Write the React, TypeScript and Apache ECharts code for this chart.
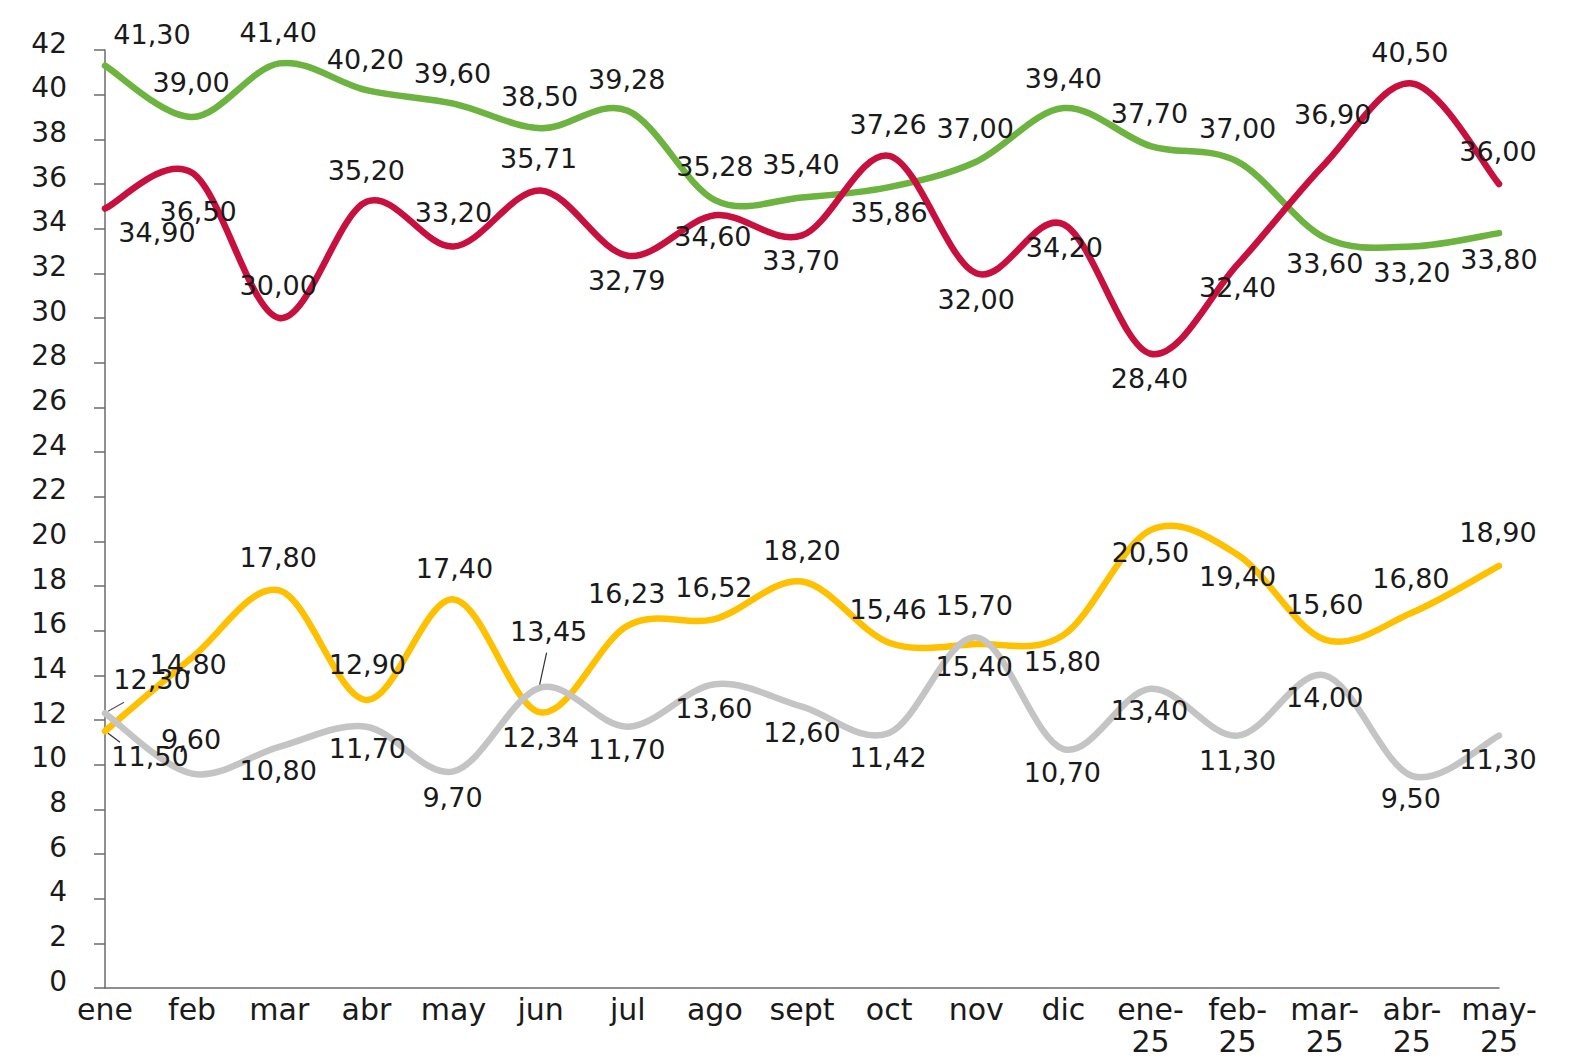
import React, { useEffect, useRef } from "react";
import * as echarts from "echarts";

const categories = ["ene", "feb", "mar", "abr", "may", "jun", "jul", "ago", "sept", "oct", "nov", "dic", "ene-25", "feb-25", "mar-25", "abr-25", "may-25"];

const greenValues = [41.3, 39.0, 41.4, 40.2, 39.6, 38.5, 39.28, 35.28, 35.4, 35.86, 37.0, 39.4, 37.7, 37.0, 33.6, 33.2, 33.8];
const redValues = [34.9, 36.5, 30.0, 35.2, 33.2, 35.71, 32.79, 34.6, 33.7, 37.26, 32.0, 34.2, 28.4, 32.4, 36.9, 40.5, 36.0];
const yellowValues = [11.5, 14.8, 17.8, 12.9, 17.4, 12.34, 16.23, 16.52, 18.2, 15.46, 15.4, 15.8, 20.5, 19.4, 15.6, 16.8, 18.9];
const grayValues = [12.3, 9.6, 10.8, 11.7, 9.7, 13.45, 11.7, 13.6, 12.6, 11.42, 15.7, 10.7, 13.4, 11.3, 14.0, 9.5, 11.3];

const yTicksMin = 0;
const yTicksMax = 42;
const yTicksStep = 2;

// label placement (offset of label centre from the point, px)
const greenDx = [47, -1, -1, -1, -1, -1, -1, 0, -1, 0, -1, 0, -1, 0, 0, 0, 0];
const greenDy = [-31, -35, -31, -31, -30, -32, -31, -34, -33, 25, -33, -30, -33, -33, 26, 26, 26];
const redDx = [52, 6, -1, 0, 0, -2, -1, -2, -1, -1, 0, 1, -1, 0, 8, -2, -1];
const redDy = [24, 39, -33, -31, -34, -32, 25, 21, 25, -31, 26, 23, 25, 23, -49, -31, -33];
const yellowDx = [45, -4, -1, 1, 1, 0, -1, -1, 0, -1, -2, -1, 0, 0, 0, -1, -1];
const yellowDy = [25, 7, -33, -35, -31, 25, -32, -32, -31, -33, 22, 26, 22, 22, -35, -34, -33];
const grayDx = [47, -1, -1, 1, -1, 8, -1, -1, 0, -1, -2, -1, -1, 0, 0, -1, -1];
const grayDy = [-34, -34, 24, 22, 26, -56, 23, 24, 26, 25, -32, 23, 22, 25, 22, 23, 24];

const FONT = "'DejaVu Sans', 'Noto Sans', sans-serif";
const TEXT = "#1a1a1a";
const AXIS = "#6b6b6b";
const LINE_W = 6.5;

const fmt = (v: number) => v.toFixed(2).replace(".", ",");

// smooth curve drawn through the library's coordinate conversion (Catmull-Rom style Bezier)
function curveSeries(values: number[], color: string) {
  return {
    type: "custom",
    coordinateSystem: "cartesian2d",
    silent: true,
    clip: false,
    z: 2,
    data: [[0, values[0]]],
    renderItem: (_params: any, api: any) => {
      const pts = values.map((v, i) => api.coord([i, v]) as number[]);
      const n = pts.length;
      let d = `M${pts[0][0]},${pts[0][1]}`;
      for (let i = 0; i < n - 1; i++) {
        const p0 = pts[Math.max(i - 1, 0)];
        const p1 = pts[i];
        const p2 = pts[i + 1];
        const p3 = pts[Math.min(i + 2, n - 1)];
        const c1x = p1[0] + (p2[0] - p0[0]) / 6;
        const c1y = p1[1] + (p2[1] - p0[1]) / 6;
        const c2x = p2[0] - (p3[0] - p1[0]) / 6;
        const c2y = p2[1] - (p3[1] - p1[1]) / 6;
        d += ` C${c1x},${c1y} ${c2x},${c2y} ${p2[0]},${p2[1]}`;
      }
      return {
        type: "path",
        shape: { pathData: d },
        style: { stroke: color, lineWidth: LINE_W, fill: "none", lineCap: "round", lineJoin: "round" },
      };
    },
  };
}

function labelSeries(name: string, values: number[], dx: number[], dy: number[]) {
  return {
    name,
    type: "line",
    z: 5,
    symbol: "circle",
    symbolSize: 1,
    showSymbol: true,
    itemStyle: { color: "rgba(0,0,0,0)" },
    lineStyle: { width: 0, opacity: 0 },
    label: {
      show: true,
      position: "inside",
      color: TEXT,
      fontFamily: FONT,
      fontSize: 27,
      formatter: (p: any) => fmt(p.value),
    },
    data: values.map((v, i) => ({ value: v, label: { offset: [dx[i], dy[i]] } })),
  };
}

export default function App() {
  const ref = useRef<HTMLDivElement>(null);
  useEffect(() => {
    document.body.style.margin = "0";
    const chart = echarts.init(ref.current!, undefined, { renderer: "svg" });
    chart.setOption({
      animation: false,
      backgroundColor: "#ffffff",
      grid: { left: 105, right: 84, top: 50, bottom: 76 },
      xAxis: {
        type: "category",
        data: categories,
        boundaryGap: false,
        axisLine: { show: true, lineStyle: { color: AXIS, width: 1.5 } },
        axisTick: { show: false },
        axisLabel: {
          interval: 0,
          margin: 5,
          color: TEXT,
          fontFamily: FONT,
          fontSize: 30,
          lineHeight: 32,
          formatter: (v: string) => v.replace("-", "-\n"),
        },
        splitLine: { show: false },
      },
      yAxis: {
        type: "value",
        min: yTicksMin,
        max: yTicksMax,
        interval: yTicksStep,
        axisLine: { show: true, lineStyle: { color: AXIS, width: 1.5 } },
        axisTick: { show: true, length: 11, lineStyle: { color: AXIS, width: 1.5 } },
        axisLabel: {
          margin: 38,
          color: TEXT,
          fontFamily: FONT,
          fontSize: 28,
          verticalAlign: "bottom",
          lineHeight: 14,
        },
        splitLine: { show: false },
      },
      series: [
        curveSeries(greenValues, "#6cb33f"),
        curveSeries(redValues, "#c8103e"),
        curveSeries(yellowValues, "#ffc000"),
        curveSeries(grayValues, "#c4c4c4"),
        labelSeries("verde", greenValues, greenDx, greenDy),
        labelSeries("rojo", redValues, redDx, redDy),
        labelSeries("amarillo", yellowValues, yellowDx, yellowDy),
        labelSeries("gris", grayValues, grayDx, grayDy),
      ],
    });

    // leader lines for moved labels
    const p0g = chart.convertToPixel({ gridIndex: 0 }, [0, grayValues[0]]) as number[];
    const p0y = chart.convertToPixel({ gridIndex: 0 }, [0, yellowValues[0]]) as number[];
    const p5g = chart.convertToPixel({ gridIndex: 0 }, [5, grayValues[5]]) as number[];
    chart.setOption({
      graphic: [
        { type: "line", z: 100, shape: { x1: p0g[0] + 3, y1: p0g[1] - 2, x2: p0g[0] + 19, y2: p0g[1] - 11 }, style: { stroke: "#55506a", lineWidth: 1.2 } },
        { type: "line", z: 100, shape: { x1: p0y[0] + 3, y1: p0y[1] + 2, x2: p0y[0] + 15, y2: p0y[1] + 11 }, style: { stroke: "#333333", lineWidth: 1.2 } },
        { type: "line", z: 100, shape: { x1: p5g[0] - 1, y1: p5g[1] - 3, x2: p5g[0] + 6, y2: p5g[1] - 35 }, style: { stroke: "#333333", lineWidth: 1.2 } },
      ],
    });
    return () => chart.dispose();
  }, []);
  return <div ref={ref} style={{ width: 1583, height: 1064 }} />;
}
